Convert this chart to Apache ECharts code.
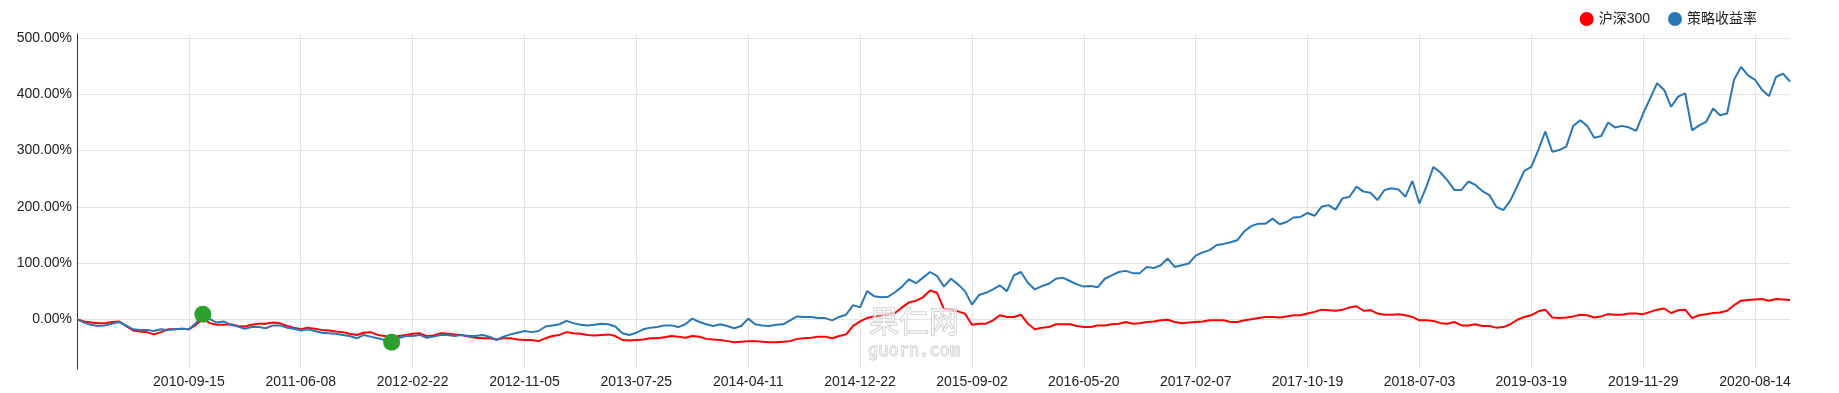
<!DOCTYPE html>
<html>
<head>
<meta charset="utf-8">
<script src="https://cdn.jsdelivr.net/npm/echarts@6/dist/echarts.min.js"></script>
<style>html,body{margin:0;padding:0;background:#fff}#c{width:1839px;height:393px}</style>
</head>
<body>
<div id="c"></div>
<script>
// Trading dates (sampled), one row per x-axis label step
const dates = [
'2010-01-04','2010-01-19','2010-02-03','2010-02-24','2010-03-11','2010-03-26','2010-04-13','2010-04-28','2010-05-14','2010-05-31','2010-06-11','2010-06-29','2010-07-14','2010-07-29','2010-08-13','2010-08-30',
'2010-09-15','2010-10-15','2010-11-08','2010-11-22','2010-12-06','2010-12-20','2011-01-04','2011-01-18','2011-02-09','2011-02-24','2011-03-11','2011-03-28','2011-04-13','2011-04-28','2011-05-13','2011-05-26',
'2011-06-08','2011-06-23','2011-07-08','2011-07-25','2011-08-09','2011-08-24','2011-09-08','2011-09-26','2011-10-18','2011-11-02','2011-11-17','2011-12-02','2011-12-19','2012-01-05','2012-01-20','2012-02-07',
'2012-02-22','2012-03-08','2012-03-23','2012-04-10','2012-04-25','2012-05-11','2012-05-28','2012-06-12','2012-06-28','2012-07-13','2012-07-30','2012-08-14','2012-08-29','2012-09-13','2012-09-28','2012-10-19',
'2012-11-05','2012-11-20','2012-12-05','2012-12-20','2013-01-08','2013-01-23','2013-02-07','2013-03-01','2013-03-18','2013-04-02','2013-04-19','2013-05-08','2013-05-23','2013-06-07','2013-06-26','2013-07-11',
'2013-07-25','2013-08-09','2013-08-26','2013-09-10','2013-09-27','2013-10-18','2013-11-04','2013-11-19','2013-12-04','2013-12-19','2014-01-06','2014-01-21','2014-02-12','2014-02-27','2014-03-14','2014-03-31',
'2014-04-11','2014-04-28','2014-05-14','2014-05-29','2014-06-13','2014-06-30','2014-07-15','2014-07-30','2014-08-13','2014-08-28','2014-09-12','2014-09-29','2014-10-20','2014-11-04','2014-11-19','2014-12-04',
'2014-12-22','2015-01-07','2015-01-22','2015-02-06','2015-03-02','2015-03-17','2015-04-01','2015-04-17','2015-05-05','2015-05-20','2015-06-04','2015-06-19','2015-07-07','2015-07-22','2015-08-06','2015-08-21',
'2015-09-02','2015-09-18','2015-10-12','2015-10-27','2015-11-11','2015-11-26','2015-12-11','2015-12-28','2016-01-12','2016-01-27','2016-02-17','2016-03-03','2016-03-18','2016-04-05','2016-04-20','2016-05-05',
'2016-05-20','2016-06-06','2016-06-21','2016-07-06','2016-07-21','2016-08-05','2016-08-22','2016-09-06','2016-09-22','2016-10-14','2016-10-31','2016-11-15','2016-11-30','2016-12-15','2016-12-30','2017-01-17',
'2017-02-07','2017-02-22','2017-03-09','2017-03-24','2017-04-11','2017-04-26','2017-05-12','2017-05-31','2017-06-15','2017-06-30','2017-07-17','2017-08-01','2017-08-16','2017-08-31','2017-09-15','2017-09-29',
'2017-10-19','2017-11-03','2017-11-20','2017-12-05','2017-12-20','2018-01-08','2018-01-23','2018-02-07','2018-03-01','2018-03-16','2018-04-02','2018-04-19','2018-05-07','2018-05-22','2018-06-06','2018-06-20',
'2018-07-03','2018-07-18','2018-08-02','2018-08-17','2018-09-03','2018-09-18','2018-10-10','2018-10-25','2018-11-09','2018-11-26','2018-12-11','2018-12-26','2019-01-11','2019-01-28','2019-02-19','2019-03-06',
'2019-03-19','2019-04-03','2019-04-19','2019-05-08','2019-05-23','2019-06-10','2019-06-25','2019-07-10','2019-07-25','2019-08-09','2019-08-26','2019-09-10','2019-09-26','2019-10-18','2019-11-04','2019-11-19',
'2019-11-29','2019-12-16','2019-12-31','2020-01-16','2020-02-12','2020-02-27','2020-03-13','2020-03-30','2020-04-15','2020-04-30','2020-05-19','2020-06-03','2020-06-18','2020-07-06','2020-07-21','2020-08-04',
'2020-08-14','2020-08-31','2020-09-15','2020-09-30','2020-10-21','2020-11-05'
];

// x-axis tick labels shown in the chart
const tickDates = ['2010-09-15','2011-06-08','2012-02-22','2012-11-05','2013-07-25','2014-04-11','2014-12-22',
  '2015-09-02','2016-05-20','2017-02-07','2017-10-19','2018-07-03','2019-03-19','2019-11-29','2020-08-14'];

// 沪深300 cumulative return (%)
const hs300 = [
0,-4,-6,-7,-7,-5,-4,-12,-20,-22,-23,-27,-23,-18,-18,-17,
-18,-10,0,-7,-10,-10,-9,-12,-13,-10,-8,-8,-6,-7,-12,-15,
-18,-15,-17,-19,-20,-22,-23,-26,-28,-24,-23,-28,-30,-33,-30,-28,
-26,-25,-30,-29,-25,-26,-27,-28,-31,-33,-34,-34,-36,-34,-34,-36,
-37,-37,-39,-34,-30,-28,-23,-25,-26,-28,-29,-28,-27,-30,-37,-38,
-37,-36,-34,-34,-32,-30,-31,-33,-30,-31,-35,-36,-37,-39,-41,-40,
-39,-39,-40,-41,-41,-40,-39,-35,-34,-33,-31,-31,-34,-30,-27,-12,
-4,2,5,7,9,11,21,30,33,39,51,47,18,17,14,10,
-10,-8,-8,-2,7,4,4,8,-8,-18,-15,-14,-9,-9,-9,-12,
-14,-14,-11,-11,-9,-8,-5,-8,-7,-5,-4,-2,-1,-5,-7,-6,
-5,-4,-2,-2,-2,-5,-5,-2,0,2,4,4,3,5,7,7,
10,13,17,16,15,17,21,23,15,16,10,8,8,9,7,4,
-2,-2,-3,-7,-8,-5,-11,-11,-9,-12,-12,-15,-14,-9,-1,4,
7,14,17,3,2,3,5,8,7,3,5,9,8,8,10,10,
9,13,17,19,11,16,17,2,7,9,11,12,15,25,33,34,
35,36,33,36,35,34
];

// 策略收益率 cumulative return (%)
const strategy = [
0,-6,-10,-12,-11,-8,-5,-11,-18,-19,-19,-21,-18,-19,-18,-17,
-18,-7,9,0,-6,-4,-10,-13,-17,-14,-14,-16,-11,-11,-15,-17,
-20,-18,-21,-24,-25,-26,-28,-30,-34,-28,-31,-34,-37,-41,-34,-30,
-30,-28,-33,-31,-28,-28,-30,-28,-30,-30,-28,-31,-37,-31,-27,-24,
-21,-23,-21,-13,-11,-9,-3,-7,-10,-11,-10,-8,-9,-13,-25,-28,
-24,-18,-15,-14,-11,-11,-14,-9,1,-5,-9,-12,-9,-12,-16,-12,
1,-9,-11,-12,-10,-9,-2,5,4,4,2,2,-2,4,8,25,
21,50,41,39,40,48,58,71,64,74,84,77,58,72,62,50,
26,43,47,53,60,50,78,84,65,53,59,63,72,74,68,62,
58,59,57,72,78,84,86,82,82,93,91,96,108,93,96,99,
113,119,123,132,134,137,141,157,166,170,170,179,169,173,181,182,
189,184,200,203,195,215,218,236,227,225,212,230,233,231,218,246,
206,236,271,261,247,230,230,245,239,228,221,200,194,211,237,264,
271,301,334,298,301,307,344,354,344,323,326,350,341,344,341,335,
366,393,420,408,378,396,402,336,345,351,375,363,366,426,449,434,
426,408,397,431,437,423
];

// Max drawdown start / end dates (green markers on the strategy curve)
const drawdownDates = ['2010-11-08', '2012-01-05'];

const labelFont = 'Liberation Sans, Arial, "Noto Sans CJK SC", sans-serif';
const isTick = (idx, val) => tickDates.indexOf(val) >= 0;
const markData = drawdownDates.map(d => [d, strategy[dates.indexOf(d)]]);

const chart = echarts.init(document.getElementById('c'), null, {renderer: 'canvas'});
chart.setOption({
  animation: false,
  backgroundColor: '#ffffff',
  textStyle: {fontFamily: labelFont},
  legend: {
    right: 77, top: 7, icon: 'circle', itemWidth: 14, itemHeight: 14, itemGap: 18,
    textStyle: {fontSize: 14, color: '#222', fontFamily: labelFont},
    data: ['沪深300', '策略收益率']
  },
  grid: {left: 77, right: 49, top: 34, bottom: 24},
  xAxis: {
    type: 'category', boundaryGap: false, data: dates,
    axisLine: {show: false}, axisTick: {show: false},
    axisLabel: {interval: isTick, fontSize: 14, color: '#222', margin: 6, fontFamily: labelFont},
    splitLine: {show: true, interval: isTick, lineStyle: {color: '#e3e3e3', width: 1}}
  },
  yAxis: {
    type: 'value', min: -88.6, max: 507.5, splitNumber: 5,
    axisLine: {show: true, lineStyle: {color: '#333', width: 1}},
    axisTick: {show: false},
    axisLabel: {showMinLabel: false, showMaxLabel: false, fontSize: 14, color: '#222', margin: 5,
      fontFamily: labelFont, formatter: v => v.toFixed(2) + '%'},
    splitLine: {show: true, showMinLine: false, showMaxLine: false, lineStyle: {color: '#e3e3e3', width: 1}}
  },
  series: [
    {name: '沪深300', type: 'line', data: hs300, showSymbol: false, symbol: 'none',
      lineStyle: {width: 2, color: '#ff0000'}, itemStyle: {color: '#ff0000'}, z: 2},
    {name: '策略收益率', type: 'line', data: strategy, showSymbol: false, symbol: 'none',
      lineStyle: {width: 2, color: '#2878b8'}, itemStyle: {color: '#2878b8'}, z: 3},
    {name: '最大回撤', type: 'scatter', data: markData, symbolSize: 17,
      itemStyle: {color: '#2ca02c', opacity: 1}, z: 5}
  ],
  graphic: [
    {type: 'text', x: 914, y: 321, z: 100, silent: true,
      style: {text: '果仁网', font: '30px "Noto Sans CJK SC"', align: 'center', verticalAlign: 'middle',
        fill: 'rgba(255,255,255,0.6)', stroke: '#c2c2c2', lineWidth: 1}},
    {type: 'text', x: 914, y: 352, z: 100, silent: true,
      style: {text: 'guorn.com', font: '17px "DejaVu Sans Mono"', align: 'center', verticalAlign: 'middle',
        fill: 'rgba(255,255,255,0.6)', stroke: '#c2c2c2', lineWidth: 1}}
  ]
});
</script>
</body>
</html>
